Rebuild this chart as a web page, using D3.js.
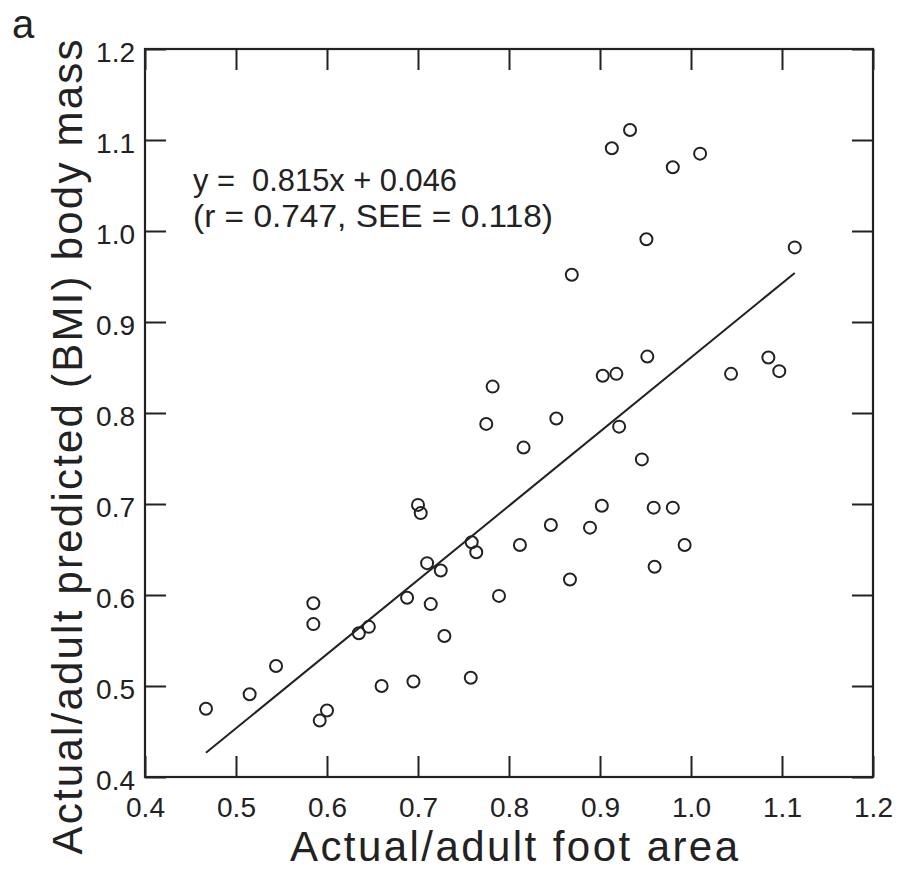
<!DOCTYPE html>
<html lang="en">
  <head>
    <meta charset="utf-8" />
    <title>foot area vs body mass</title>
    <script type="text/javascript" src="https://d3js.org/d3.v7.min.js"></script>
    <style>
      body { margin: 0; background: #fff; }
      text { font-family: "Liberation Sans", Arial, sans-serif; fill: #222; }
      text.fit { white-space: pre; }
    </style>
  </head>
  <body>
    <div id="graph"></div>

    <script type="text/javascript">
      /***************
       * data
       ***************/

      // actual/adult foot area
      const footArea = [
        0.913, 0.933, 0.980, 1.010, 0.951, 0.869, 1.114,
        0.782, 0.775, 0.816, 0.852, 0.903, 0.918, 0.952, 1.044, 1.085, 1.097,
        0.921, 0.946, 0.812, 0.846, 0.889, 0.902, 0.867, 0.959, 0.980, 0.993, 0.960,
        0.700, 0.703, 0.759, 0.764, 0.710, 0.725, 0.688, 0.714, 0.729, 0.695,
        0.758, 0.789, 0.660, 0.635, 0.646, 0.585, 0.585, 0.544, 0.515, 0.467,
        0.592, 0.600
      ];

      // actual/adult predicted (BMI) body mass
      const bodyMass = [
        1.091, 1.111, 1.070, 1.085, 0.991, 0.952, 0.982,
        0.829, 0.788, 0.762, 0.794, 0.841, 0.843, 0.862, 0.843, 0.861, 0.846,
        0.785, 0.749, 0.655, 0.677, 0.674, 0.698, 0.617, 0.696, 0.696, 0.655, 0.631,
        0.699, 0.690, 0.658, 0.647, 0.635, 0.627, 0.597, 0.590, 0.555, 0.505,
        0.509, 0.599, 0.500, 0.558, 0.565, 0.591, 0.568, 0.522, 0.491, 0.475,
        0.462, 0.473
      ];

      const xTicks = [0.4, 0.5, 0.6, 0.7, 0.8, 0.9, 1.0, 1.1, 1.2];
      const yTicks = [0.4, 0.5, 0.6, 0.7, 0.8, 0.9, 1.0, 1.1, 1.2];

      // regression y = slope * x + intercept, drawn over the range of the data
      const slope = 0.815;
      const intercept = 0.046;
      const fitText = ["y =  0.815x + 0.046", "(r = 0.747, SEE = 0.118)"];

      /***************************
       * create svg
       **************************/

      const width = 902;
      const height = 876;
      const margin = { top: 49, right: 29, bottom: 99, left: 145 };
      const w = width - margin.left - margin.right;
      const h = height - margin.top - margin.bottom;

      const svg = d3
        .select("div#graph")
        .append("svg")
        .attr("width", width)
        .attr("height", height);

      const g = svg
        .append("g")
        .attr("transform", "translate(" + margin.left + "," + margin.top + ")");

      /********************
       * scale
       ********************/

      const x = d3.scaleLinear().domain([0.4, 1.2]).range([0, w]);
      const y = d3.scaleLinear().domain([0.4, 1.2]).range([h, 0]);

      const fmt = d3.format(".1f");
      const tickLen = 21;

      /**************
       * axes
       **************/

      const axisStyle = (sel) => {
        sel.select(".domain").remove();
        sel.selectAll(".tick line").attr("stroke", "#222").attr("stroke-width", 2);
        sel.selectAll("text").attr("font-size", 28).attr("fill", "#222");
      };

      g.append("g")
        .attr("transform", "translate(0," + h + ")")
        .call(d3.axisBottom(x).tickValues(xTicks).tickFormat(fmt)
          .tickSizeInner(-tickLen).tickSizeOuter(0).tickPadding(20))
        .call(axisStyle);

      g.append("g")
        .call(d3.axisTop(x).tickValues(xTicks).tickFormat("")
          .tickSizeInner(-tickLen).tickSizeOuter(0))
        .call(axisStyle);

      g.append("g")
        .call(d3.axisLeft(y).tickValues(yTicks).tickFormat(fmt)
          .tickSizeInner(-tickLen).tickSizeOuter(0).tickPadding(10))
        .call(axisStyle)
        .selectAll("text").attr("dy", "0.45em");

      g.append("g")
        .attr("transform", "translate(" + w + ",0)")
        .call(d3.axisRight(y).tickValues(yTicks).tickFormat("")
          .tickSizeInner(-tickLen).tickSizeOuter(0))
        .call(axisStyle);

      // frame
      g.append("rect")
        .attr("width", w)
        .attr("height", h)
        .attr("fill", "none")
        .attr("stroke", "#222")
        .attr("stroke-width", 2.2);

      /**************
       * regression line
       **************/

      const xr = d3.extent(footArea);
      g.append("line")
        .attr("x1", x(xr[0]))
        .attr("y1", y(slope * xr[0] + intercept))
        .attr("x2", x(xr[1]))
        .attr("y2", y(slope * xr[1] + intercept))
        .attr("stroke", "#222")
        .attr("stroke-width", 2);

      /**************
       * points
       **************/

      g.selectAll("circle.pt")
        .data(d3.zip(footArea, bodyMass))
        .enter()
        .append("circle")
        .attr("class", "pt")
        .attr("cx", (d) => x(d[0]))
        .attr("cy", (d) => y(d[1]))
        .attr("r", 6)
        .attr("fill", "none")
        .attr("stroke", "#222")
        .attr("stroke-width", 2);

      /**************
       * text
       **************/

      const fitWidths = [264, 360];
      g.selectAll("text.fit")
        .data(fitText)
        .enter()
        .append("text")
        .attr("class", "fit")
        .attr("x", 48)
        .attr("y", (d, i) => 142 + i * 36)
        .attr("font-size", 31)
        .attr("textLength", (d, i) => fitWidths[i])
        .attr("lengthAdjust", "spacingAndGlyphs")
        .text((d) => d);

      svg.append("text")
        .attr("x", (margin.left + width - margin.right) / 2 + 5)
        .attr("y", 861)
        .attr("text-anchor", "middle")
        .attr("font-size", 42)
        .attr("textLength", 448)
        .attr("lengthAdjust", "spacing")
        .text("Actual/adult foot area");

      svg.append("text")
        .attr("transform", "translate(82,447) rotate(-90)")
        .attr("text-anchor", "middle")
        .attr("font-size", 42)
        .attr("textLength", 815)
        .attr("lengthAdjust", "spacing")
        .text("Actual/adult predicted (BMI) body mass");

      svg.append("text")
        .attr("x", 12)
        .attr("y", 38)
        .attr("font-size", 40)
        .text("a");
    </script>
  </body>
</html>
